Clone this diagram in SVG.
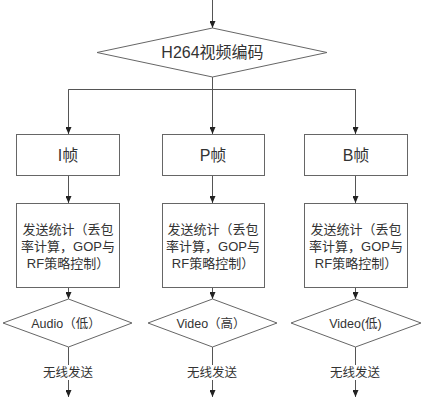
<svg xmlns="http://www.w3.org/2000/svg" width="423" height="400" viewBox="0 0 423 400">
<defs>
<marker id="arr" viewBox="0 0 7 6" refX="7" refY="3" markerWidth="7" markerHeight="6" markerUnits="userSpaceOnUse" orient="auto">
<path d="M0,0 L7,3 L0,6 z" fill="#222"/>
</marker>
</defs>
<style>
.s{fill:#fff;stroke:#666;stroke-width:1}
.c{fill:none;stroke:#555;stroke-width:1}
.a{marker-end:url(#arr)}
text{font-family:"Liberation Sans","Noto Sans CJK SC",sans-serif;fill:#333;text-anchor:middle}
.t16{font-size:16px}
.t13{font-size:13px}
.t12{font-size:12.5px}
</style>
<rect width="423" height="400" fill="#fff"/>
<g id="connectors">
<line class="c a" x1="212.5" y1="0" x2="212.5" y2="28"/>
<line class="c a" x1="212.5" y1="77" x2="212.5" y2="134"/>
<polyline class="c" points="68.5,134 68.5,89.5 355.5,89.5 355.5,134"/>
<line class="c a" x1="68.5" y1="89.5" x2="68.5" y2="134"/>
<line class="c a" x1="355.5" y1="89.5" x2="355.5" y2="134"/>
<line class="c a" x1="68.5" y1="175" x2="68.5" y2="203"/>
<line class="c a" x1="212.5" y1="175" x2="212.5" y2="203"/>
<line class="c a" x1="355.5" y1="175" x2="355.5" y2="203"/>
<line class="c a" x1="68.5" y1="287" x2="68.5" y2="299"/>
<line class="c a" x1="212.5" y1="287" x2="212.5" y2="299"/>
<line class="c a" x1="355.5" y1="287" x2="355.5" y2="299"/>
<line class="c a" x1="68.5" y1="347" x2="68.5" y2="397"/>
<line class="c a" x1="212.5" y1="347" x2="212.5" y2="397"/>
<line class="c a" x1="355.5" y1="347" x2="355.5" y2="397"/>
<rect x="40" y="365" width="56" height="15" fill="#fff"/>
<rect x="184" y="365" width="56" height="15" fill="#fff"/>
<rect x="327" y="365" width="56" height="15" fill="#fff"/>
<text class="t12" x="68" y="377">无线发送</text>
<text class="t12" x="212" y="377">无线发送</text>
<text class="t12" x="355" y="377">无线发送</text>
</g>
<g id="encode">
<polygon class="s" points="212.5,28 327,52.5 212.5,77 97,52.5"/>
<text class="t16" x="212.5" y="58">H264视频编码</text>
</g>
<g id="iframe">
<rect class="s" x="16.5" y="134.5" width="103" height="41"/>
<text class="t16" x="68" y="161">I帧</text>
</g>
<g id="pframe">
<rect class="s" x="162.5" y="134.5" width="102" height="41"/>
<text class="t16" x="213" y="161">P帧</text>
</g>
<g id="bframe">
<rect class="s" x="304.5" y="134.5" width="103" height="41"/>
<text class="t16" x="356" y="161">B帧</text>
</g>
<g id="stat1">
<rect class="s" x="16.5" y="203.5" width="103" height="84"/>
<text class="t13" x="68" y="233.5">发送统计（丢包</text>
<text class="t13" x="68" y="250.5">率计算，GOP与</text>
<text class="t13" x="68" y="267.5">RF策略控制）</text>
</g>
<g id="stat2">
<rect class="s" x="162.5" y="203.5" width="102" height="84"/>
<text class="t13" x="213" y="233.5">发送统计（丢包</text>
<text class="t13" x="213" y="250.5">率计算，GOP与</text>
<text class="t13" x="213" y="267.5">RF策略控制）</text>
</g>
<g id="stat3">
<rect class="s" x="304.5" y="203.5" width="103" height="84"/>
<text class="t13" x="356" y="233.5">发送统计（丢包</text>
<text class="t13" x="356" y="250.5">率计算，GOP与</text>
<text class="t13" x="356" y="267.5">RF策略控制）</text>
</g>
<g id="audio">
<polygon class="s" points="68.5,299 132,323 68.5,347 3,323"/>
<text class="t12" x="66" y="327.5">Audio（低）</text>
</g>
<g id="videohigh">
<polygon class="s" points="212.5,299 277,323 212.5,347 148,323"/>
<text class="t12" x="211" y="327.5">Video（高）</text>
</g>
<g id="videolow">
<polygon class="s" points="355.5,299 421,323 355.5,347 291,323"/>
<text class="t12" x="355.5" y="327.5">Video(低)</text>
</g>
</svg>
